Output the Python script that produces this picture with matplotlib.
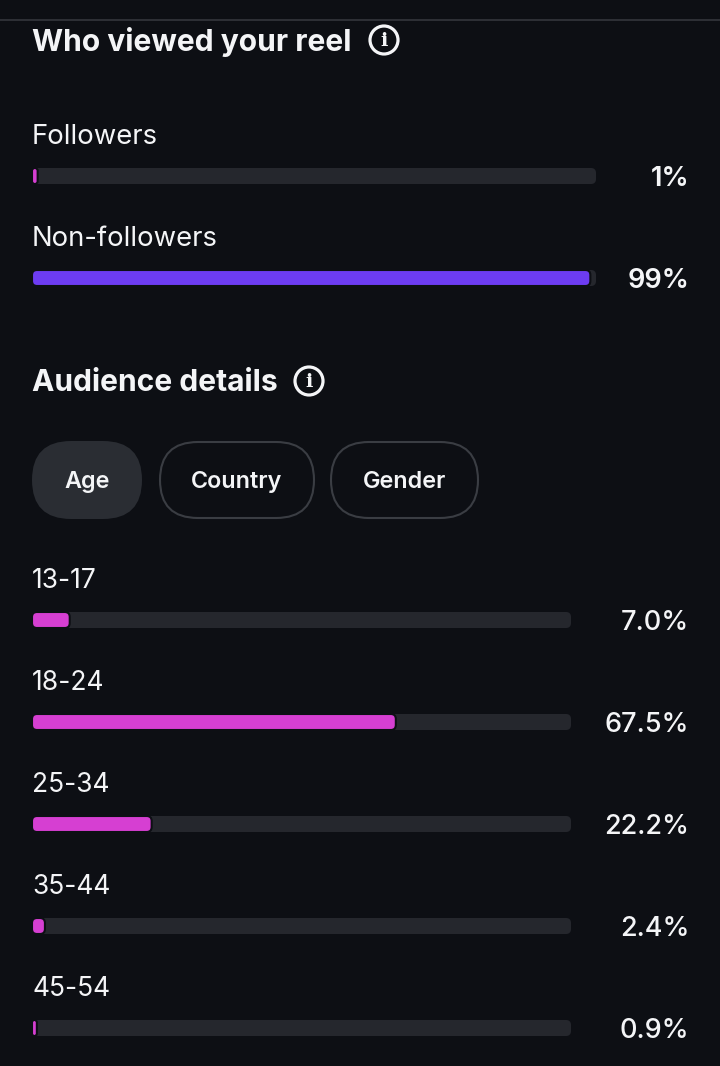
'''
Reel audience panel
'''

import matplotlib
matplotlib.use("Agg")
import matplotlib.pyplot as plt
from matplotlib.patches import FancyBboxPatch, Circle

# Data
viewer_groups = ["Followers", "Non-followers"]
viewer_pct = [1, 99]
viewer_labels = ["1%", "99%"]

age_groups = ["13-17", "18-24", "25-34", "35-44", "45-54"]
age_pct = [7.0, 67.5, 22.2, 2.4, 0.9]

tabs = ["Age", "Country", "Gender"]

# Style
BG = "#0d0f14"
TRACK = "#25272d"
PINK = "#d63fd2"
PURPLE = "#6d3cf2"
WHITE = "#f4f5f7"
FONT = ["Inter", "DejaVu Sans"]

fig = plt.figure(figsize=(7.2, 10.66), dpi=100, facecolor=BG)
ax = fig.add_axes([0, 0, 1, 1])
ax.set_xlim(0, 720)
ax.set_ylim(1066, 0)
ax.set_facecolor(BG)
ax.axis("off")


def rbox(x, y, w, h, r, **kw):
    r = min(r, w / 2, h / 2)
    p = FancyBboxPatch((x, y), w, h, boxstyle="round,pad=0,rounding_size=%g" % r,
                       mutation_aspect=1, **kw)
    ax.add_patch(p)
    return p


def info_icon(cx, cy):
    ax.add_patch(Circle((cx, cy), 14, fill=False, ec=WHITE, lw=2.3))
    ax.text(cx, cy + 1, "i", ha="center", va="center", color=WHITE,
            fontsize=14, fontweight="bold", family="DejaVu Serif")


def bar_row(label, pct, text, y, track_w, color, label_size, num_size, num_weight):
    x0 = 32
    ax.text(x0, y - 39, label, ha="left", va="center", color=WHITE,
            fontsize=label_size, family=FONT)
    rbox(x0, y - 8, track_w, 16, 5, fc=TRACK, ec="none")
    rbox(x0, y - 8, pct / 100 * track_w, 16, 5, fc=color, ec=BG, lw=1.5)
    ax.text(689.5, y + 2.5, text, ha="right", va="center", color=WHITE,
            fontsize=num_size, fontweight=num_weight, family=FONT)


# top divider
ax.plot([0, 720], [20, 20], color="#34363c", lw=1.2)

# Who viewed your reel
ax.text(32, 42, "Who viewed your reel", ha="left", va="center", color=WHITE,
        fontsize=21.6, fontweight="bold", family=FONT)
info_icon(384, 40)

for i, (g, p, t) in enumerate(zip(viewer_groups, viewer_pct, viewer_labels)):
    bar_row(g, p, t, 176 + i * 102, 564, PINK if i == 0 else PURPLE,
            19.8, 19.5, "semibold")

# Audience details
ax.text(32, 383, "Audience details", ha="left", va="center", color=WHITE,
        fontsize=21.6, fontweight="bold", family=FONT)
info_icon(309, 381)

# tabs
tab_x = [32, 160, 331]
tab_w = [110, 154, 147]
for i, (name, x, w) in enumerate(zip(tabs, tab_x, tab_w)):
    if i == 0:
        rbox(x, 441, w, 78, 39, fc="#2a2d33", ec="none")
    else:
        rbox(x, 442, w, 76, 38, fc="none", ec="#3a3d43", lw=1.5)
    ax.text(x + w / 2, 482, name, ha="center", va="center", color=WHITE,
            fontsize=16.8, fontweight="semibold", family=FONT)

# age bars
for i, (g, p) in enumerate(zip(age_groups, age_pct)):
    bar_row(g, p, "%.1f%%" % p, 620 + i * 102, 539, PINK, 19, 19.5, "medium")

fig.savefig("out.png", dpi=100, facecolor=BG)
